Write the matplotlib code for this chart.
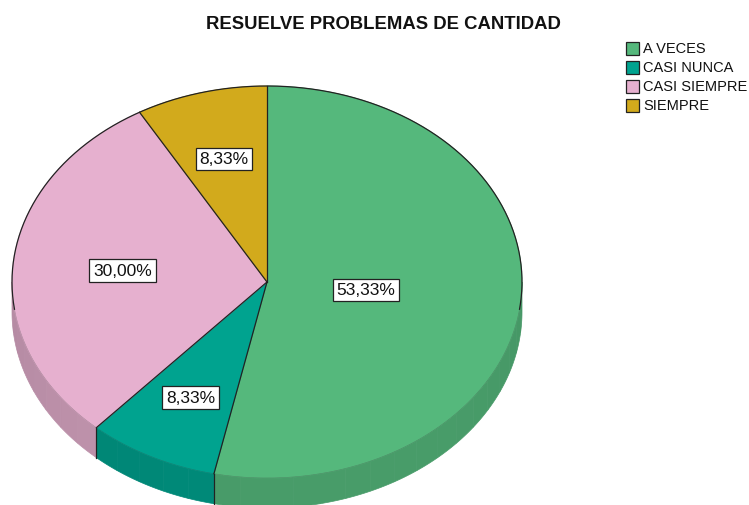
import numpy as np
import matplotlib
matplotlib.use('Agg')
import matplotlib.pyplot as plt
from matplotlib.patches import Polygon, Rectangle
from matplotlib.colors import to_rgb

# data
categories = ['A VECES', 'CASI NUNCA', 'CASI SIEMPRE', 'SIEMPRE']
percents = [53.33, 8.33, 30.00, 8.33]
colors = ['#55b87c', '#00a38f', '#e6b0cf', '#d2aa1c']
label_frac = [0.39, 0.66, 0.57, 0.65]

plt.rcParams['font.family'] = ['Liberation Sans', 'DejaVu Sans']

W, H = 749, 506
fig = plt.figure(figsize=(W / 100, H / 100), dpi=100)
ax = fig.add_axes([0, 0, 1, 1])
ax.set_xlim(0, W)
ax.set_ylim(H, 0)
ax.axis('off')

cx, cy = 267, 283
rx, ry = 255, 196
depth = 30

def pt(t, dy=0.0):
    t = np.radians(t)
    return cx + rx * np.sin(t), cy - ry * np.cos(t) + dy

def shade(c, f):
    return tuple(min(1, v * f) for v in to_rgb(c))

# slice angles, clockwise from top
bounds = np.concatenate([[0], np.cumsum(percents) / sum(percents) * 360])

# side walls (front half only)
for i in range(len(percents)):
    a0, a1 = max(bounds[i], 90), min(bounds[i + 1], 270)
    if a1 <= a0:
        continue
    steps = np.arange(a0, a1, 6.0)
    steps = np.append(steps, a1)
    for s0, s1 in zip(steps[:-1], steps[1:]):
        ts = np.linspace(s0, s1, 8)
        top = [pt(t) for t in ts]
        bot = [pt(t, depth) for t in ts[::-1]]
        mid = (s0 + s1) / 2
        f = 0.80 + 0.05 * np.cos(np.radians(mid - 160))
        c = shade(colors[i], f)
        ax.add_patch(Polygon(top + bot, closed=True, fc=c, ec=c, lw=0.5,
                             zorder=1))
    # wall edge lines
    for a in (bounds[i], bounds[i + 1]):
        if 90 < a < 270:
            x0, y0 = pt(a)
            ax.plot([x0, x0], [y0, y0 + depth], color='#222222', lw=0.8, zorder=3)

# top face
for i in range(len(percents)):
    ts = np.linspace(bounds[i], bounds[i + 1], 200)
    poly = [(cx, cy)] + [pt(t) for t in ts]
    ax.add_patch(Polygon(poly, closed=True, fc=colors[i], ec=colors[i],
                         lw=0.6, zorder=2))
    x0, y0 = pt(bounds[i])
    ax.plot([cx, x0], [cy, y0], color='#222222', lw=0.9, zorder=3)

# back rim outline
ts = np.linspace(262, 458, 300)
rx_, ry_ = zip(*[pt(t) for t in ts])
ax.plot(rx_, ry_, color='#222222', lw=0.9, zorder=3)
ts = np.linspace(98, 262, 300)
rx_, ry_ = zip(*[pt(t) for t in ts])
ax.plot(rx_, ry_, color='#333333', lw=0.4, alpha=0.35, zorder=3)

# labels
for i in range(len(percents)):
    mid = (bounds[i] + bounds[i + 1]) / 2
    t = np.radians(mid)
    x = cx + rx * np.sin(t) * label_frac[i]
    y = cy - ry * np.cos(t) * label_frac[i]
    ax.text(x, y, '{:.2f}%'.format(percents[i]).replace('.', ','),
            ha='center', va='center', fontsize=12.5, color='#111111', zorder=5,
            bbox=dict(boxstyle='square,pad=0.22', fc='white', ec='#222222', lw=0.9))

ax.text(383, 24, 'RESUELVE PROBLEMAS DE CANTIDAD', ha='center', va='center',
        fontsize=13.3, fontweight='bold', color='#111111')

# legend
for i, name in enumerate(categories):
    y = 49 + i * 19
    ax.add_patch(Rectangle((626, y - 6.5), 13, 13, fc=colors[i], ec='#222222',
                           lw=0.9, zorder=4))
    ax.text(643, y, name, ha='left', va='center', fontsize=10.5, color='#111111')

fig.savefig('out.png', dpi=100)
